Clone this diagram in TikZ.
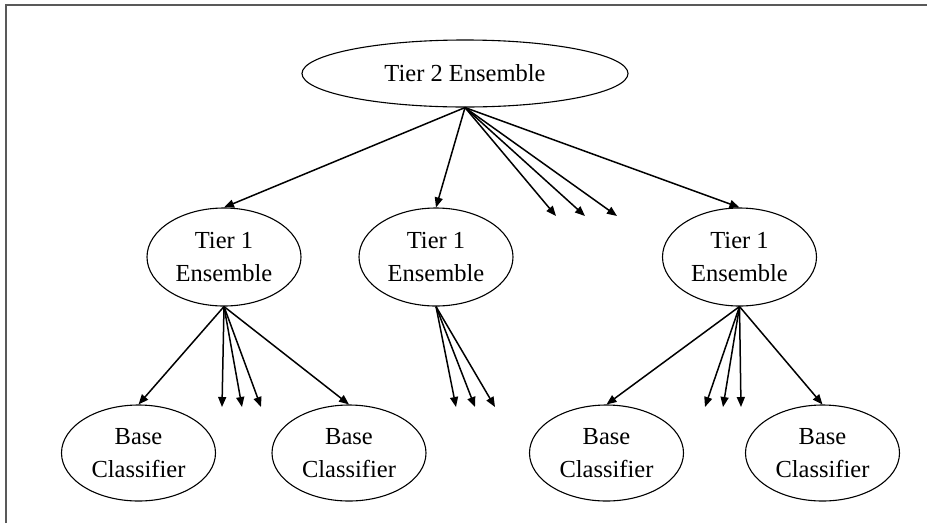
\documentclass[tikz,border=0pt]{standalone}
\usepackage{fontspec}
\setmainfont{Liberation Serif}
\usetikzlibrary{arrows.meta,shapes.geometric}
\tikzset{
    %Define standard arrow tip
    >={Triangle[length=10pt,width=8pt]},
    %Define style for ellipses
    blob/.style={
           ellipse,
           draw=black, line width=1.1pt,
           inner sep=0pt,
           align=center,
           font=\fontsize{24.5}{32.5}\selectfont},
    % Define arrow style
    pil/.style={
           ->,
           line width=1.5pt},
    % Define frame style
    rand/.style={
           draw=black!65,
           line width=2pt}
}

\begin{document}
\begin{tikzpicture}[x=1pt,y=-1pt]
\useasboundingbox (0,0) rectangle (927,523);
\draw[rand] (6,523) -- (6,5) -- (927,5);
% Tiers
\node[blob,minimum width=326pt,minimum height=67pt](t2) at (465,73.5){Tier 2 Ensemble};
\node[blob,minimum width=154pt,minimum height=98pt](t1a) at (224,257){Tier 1\\Ensemble};
\node[blob,minimum width=154pt,minimum height=98pt](t1b) at (436,257){Tier 1\\Ensemble};
\node[blob,minimum width=154pt,minimum height=98pt](t1c) at (739.5,257){Tier 1\\Ensemble};
% Base classifiers
\node[blob,minimum width=154pt,minimum height=96pt](b1) at (138.5,453){Base\\Classifier};
\node[blob,minimum width=154pt,minimum height=96pt](b2) at (349,453){Base\\Classifier};
\node[blob,minimum width=154pt,minimum height=96pt](b3) at (606.5,453){Base\\Classifier};
\node[blob,minimum width=154pt,minimum height=96pt](b4) at (822.5,453){Base\\Classifier};
% Loose ends
\coordinate (u1) at (556,216);
\coordinate (u2) at (585,216);
\coordinate (u3) at (617,216);
\coordinate (va1) at (222,407);
\coordinate (va2) at (242,407);
\coordinate (va3) at (261,407);
\coordinate (vb1) at (456,407);
\coordinate (vb2) at (475,407);
\coordinate (vb3) at (495,407);
\coordinate (vc1) at (705,407);
\coordinate (vc2) at (723,407);
\coordinate (vc3) at (741,407);
% Arrows
\draw[pil] (t2.south) -- (t1a.north);
\draw[pil] (t2.south) -- (t1b.north);
\draw[pil] (t2.south) -- (u1);
\draw[pil] (t2.south) -- (u2);
\draw[pil] (t2.south) -- (u3);
\draw[pil] (t2.south) -- (t1c.north);
\draw[pil] (t1a.south) -- (b1.north);
\draw[pil] (t1a.south) -- (va1);
\draw[pil] (t1a.south) -- (va2);
\draw[pil] (t1a.south) -- (va3);
\draw[pil] (t1a.south) -- (b2.north);
\draw[pil] (t1b.south) -- (vb1);
\draw[pil] (t1b.south) -- (vb2);
\draw[pil] (t1b.south) -- (vb3);
\draw[pil] (t1c.south) -- (b3.north);
\draw[pil] (t1c.south) -- (vc1);
\draw[pil] (t1c.south) -- (vc2);
\draw[pil] (t1c.south) -- (vc3);
\draw[pil] (t1c.south) -- (b4.north);
\end{tikzpicture}
\end{document}
